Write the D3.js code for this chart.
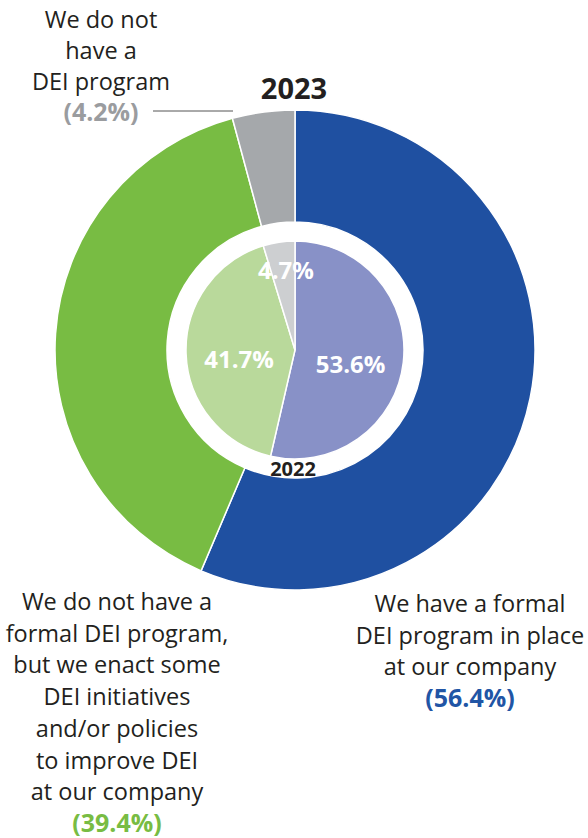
<!DOCTYPE html>
<html><head><meta charset="utf-8">
<script src="https://cdn.jsdelivr.net/npm/d3@7"></script>
<style>html,body{margin:0;padding:0;background:#fff;}svg{display:block;font-family:"Open Sans",sans-serif;}</style>
</head><body>
<script>
const categories = ["formal", "initiatives", "none"];
const values2023 = [56.4, 39.4, 4.2];
const values2022 = [53.6, 41.7, 4.7];
const colors2023 = ["#1f50a1", "#78bc43", "#a5a8ab"];
const colors2022 = ["#8891c7", "#b9d99b", "#cdcfd1"];
const labelLinesFormal = ["We have a formal", "DEI program in place", "at our company"];
const labelLinesInit = ["We do not have a", "formal DEI program,", "but we enact some", "DEI initiatives", "and/or policies", "to improve DEI", "at our company"];
const labelLinesNone = ["We do not", "have a", "DEI program"];

const W = 588, H = 838;
const cx = 295, cy = 350;
const svg = d3.select("body").append("svg").attr("width", W).attr("height", H);
const g = svg.append("g").attr("transform", `translate(${cx},${cy})`);

const pie = d3.pie().sort(null).value(d => d.v);
const outer = pie(categories.map((c, i) => ({c, v: values2023[i], i})));
const inner = pie(categories.map((c, i) => ({c, v: values2022[i], i})));

const arcOuter = d3.arc().innerRadius(128).outerRadius(240);
const arcInner = d3.arc().innerRadius(0).outerRadius(109);

g.selectAll("path.o").data(outer).join("path").attr("class", "o")
  .attr("d", arcOuter).attr("fill", d => colors2023[d.data.i])
  .attr("stroke", "#fff").attr("stroke-width", 1.5);
g.selectAll("path.i").data(inner).join("path").attr("class", "i")
  .attr("d", arcInner).attr("fill", d => colors2022[d.data.i])
  .attr("stroke", "#fff").attr("stroke-width", 1.5);

g.selectAll("text.pct").data(inner).join("text").attr("class", "pct")
  .attr("transform", d => {
    const small = d.data.v < 10;
    const r = small ? 82 : 56;
    const a = (d.startAngle + d.endAngle) / 2;
    return `translate(${Math.sin(a) * r + (small ? 3 : 0)},${-Math.cos(a) * r + (small ? 1 : 7)})`;
  })
  .attr("text-anchor", "middle").attr("dominant-baseline", "central")
  .attr("fill", "#fff").attr("font-weight", 700).attr("font-size", 24)
  .text(d => d.data.v.toFixed(1) + "%");

svg.append("text").attr("x", 293).attr("y", 476).attr("text-anchor", "middle")
  .attr("font-weight", 700).attr("font-size", 20).attr("fill", "#231f20").text("2022");
svg.append("text").attr("x", 294).attr("y", 99).attr("text-anchor", "middle")
  .attr("font-weight", 700).attr("font-size", 29).attr("fill", "#231f20").text("2023");

function block(lines, x, y0, lh, pct, pctColor) {
  const t = svg.append("g");
  lines.forEach((l, k) => t.append("text").attr("x", x).attr("y", y0 + k * lh)
    .attr("text-anchor", "middle").attr("font-size", 23.5).attr("fill", "#231f20").text(l));
  t.append("text").attr("x", x).attr("y", y0 + lines.length * lh)
    .attr("text-anchor", "middle").attr("font-size", 25).attr("font-weight", 700)
    .attr("fill", pctColor).text("(" + pct.toFixed(1) + "%)");
}
block(labelLinesNone, 101, 28, 31, values2023[2], "#9a9c9f");
block(labelLinesInit, 117, 610, 31.7, values2023[1], "#78bc43");
block(labelLinesFormal, 470, 612, 31.7, values2023[0], "#2155a5");

svg.append("line").attr("x1", 153).attr("x2", 233).attr("y1", 111).attr("y2", 111)
  .attr("stroke", "#555").attr("stroke-width", 1);
</script>
</body></html>
